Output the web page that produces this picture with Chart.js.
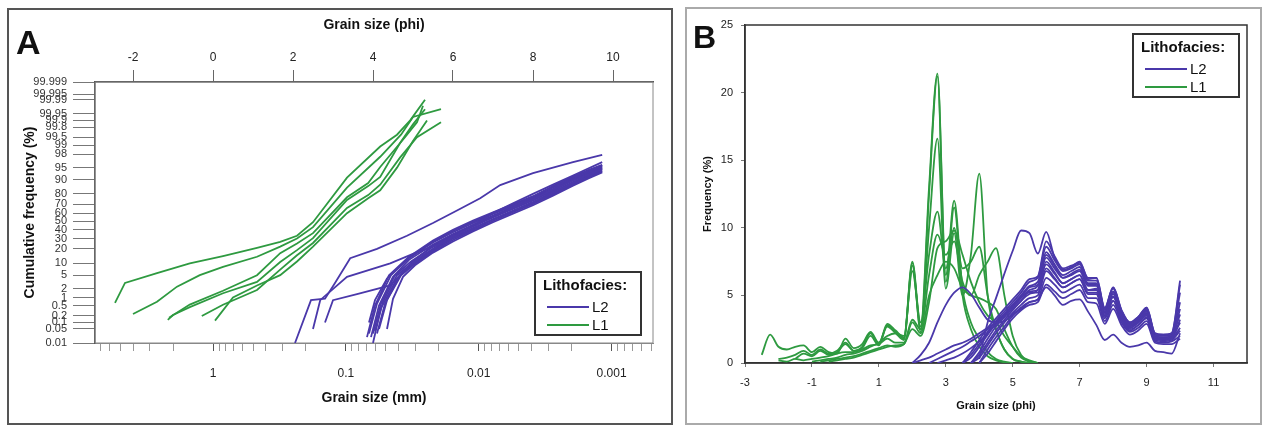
<!DOCTYPE html>
<html><head><meta charset="utf-8">
<script src="https://cdn.jsdelivr.net/npm/chart.js@4.4.0/dist/chart.umd.min.js"></script>
<style>
html,body{margin:0;padding:0;background:#fff;}
body{width:1264px;height:425px;position:relative;overflow:hidden;font-family:"Liberation Sans",Arial,sans-serif;}
.cv{position:absolute;top:0;}
.frame{position:absolute;box-sizing:border-box;pointer-events:none;}
.letter{position:absolute;font-weight:bold;line-height:1.15;color:#111;}
.leg{position:absolute;box-sizing:border-box;border:2px solid #333;background:#fff;}
.leg .t{position:absolute;font-weight:bold;font-size:15px;line-height:17px;color:#111;white-space:nowrap;}
.leg .s{position:absolute;height:2px;}
.leg .l{position:absolute;font-size:15px;line-height:17px;color:#111;}
</style>
</head><body>
<canvas id="ca" class="cv" width="680" height="425" style="left:0;width:680px;height:425px"></canvas>
<canvas id="cb" class="cv" width="584" height="425" style="left:680px;width:584px;height:425px"></canvas>
<div class="frame" style="left:7px;top:8px;width:666px;height:417px;border:2px solid #555"></div>
<div class="frame" style="left:685px;top:7px;width:577px;height:418px;border:2px solid #aaa"></div>
<div class="letter" style="left:16px;top:23px;font-size:34px">A</div>
<div class="letter" style="left:693px;top:19px;font-size:32px">B</div>
<div id="legA"></div><div id="legB"></div>
<script>
// ---------- Panel A: cumulative curves [phi, cumulative %] ----------
const aL1_1 = [[-2.45,0.64],[-2.2,3],[-1.4,5.7],[-0.58,10],[0.25,14.5],[1.1,21],[1.68,26.5],[2.1,33],[2.5,49],[3.35,91],[4.18,98.9],[4.6,99.6],[4.93,99.9],[5.3,99.99]];
const aL1_2 = [[-2.0,0.23],[-1.4,0.7],[-0.9,2.3],[-0.33,5],[0.25,8.2],[1.1,14],[1.68,22],[2.1,30],[2.5,43],[3.35,85],[4.18,97.6],[4.7,99.6],[5.0,99.93],[5.7,99.97]];
const aL1_3 = [[-1.13,0.13],[-1.0,0.21],[-0.58,0.44],[0.25,1.4],[1.1,3.2],[1.68,10.7],[2.1,19],[2.5,30.5],[3.35,74.5],[3.88,86],[4.18,91.3],[4.68,99.2],[5.0,99.85],[5.3,99.97]];
const aL1_4 = [[-1.1,0.16],[-0.58,0.55],[0.25,1.7],[1.1,5],[1.68,16.6],[2.1,25],[2.5,36],[3.35,77],[3.88,88],[4.18,95.2],[4.8,99.5],[5.1,99.88],[5.25,99.98]];
const aL1_5 = [[-0.28,0.19],[0.25,0.54],[1.1,1.8],[1.68,7],[2.1,15],[2.5,25.5],[3.35,66],[3.88,79],[4.18,86.9],[4.68,97.5],[5.1,99.5],[5.7,99.88]];
const aL1_6 = [[0.05,0.12],[0.5,1.0],[1.1,2.5],[1.68,5],[2.1,11],[2.5,22],[3.35,60],[3.88,76],[4.18,83],[4.6,95],[5.0,99.3],[5.35,99.9]];

const aL2_e1 = [[2.05,0.01],[2.45,0.8],[2.8,0.9],[3.05,3],[3.43,13],[4.1,20],[4.85,33],[5.5,48],[6.1,63],[6.68,76],[7.18,86.7],[8.0,93],[9.0,96.5],[9.73,97.9]];
const aL2_e2 = [[2.5,0.05],[2.68,0.8],[3.35,4.5],[4.43,10],[5.0,16],[5.85,27],[6.5,45],[7.0,60],[7.5,71],[8.0,80],[8.5,87],[9.0,92],[9.73,96.5]];
const aL2_e3 = [[2.8,0.1],[3.0,0.8],[3.6,1.3],[4.43,2.5],[4.8,7],[5.3,16],[5.9,30],[6.5,44],[7.0,56],[7.5,66],[8.0,75],[8.5,83.5],[9.0,89.5],[9.73,94.5]];
const aL2_b1 = [[3.85,0.02],[4.05,0.5],[4.4,5],[4.9,14],[5.5,28],[6.0,40],[6.5,51],[7.0,61],[7.5,70],[8.0,78],[8.5,86],[9.0,91.5],[9.4,94.3],[9.73,95.8]];
const aL2_b2 = [[3.9,0.03],[4.1,0.6],[4.45,5],[4.9,13],[5.5,26],[6.0,37],[6.5,48],[7.0,59],[7.5,68],[8.0,77],[8.5,85],[9.0,91],[9.4,94],[9.73,95.5]];
const aL2_b3 = [[3.95,0.02],[4.15,0.5],[4.5,4.5],[4.9,12],[5.5,24],[6.0,35],[6.5,46],[7.0,57],[7.5,67],[8.0,76],[8.5,84],[9.0,90.5],[9.4,93.5],[9.73,95.2]];
const aL2_b4 = [[4.0,0.03],[4.2,0.6],[4.55,5],[4.95,11],[5.5,22],[6.0,33],[6.5,44],[7.0,55],[7.5,65],[8.0,74],[8.5,82.5],[9.0,89.5],[9.4,93],[9.73,94.8]];
const aL2_b5 = [[4.05,0.04],[4.25,0.7],[4.6,5],[5.0,10.5],[5.5,20],[6.0,31],[6.5,42],[7.0,53],[7.5,63],[8.0,72.5],[8.5,81.5],[9.0,88.5],[9.4,92.3],[9.73,94.4]];
const aL2_b6 = [[4.1,0.03],[4.3,0.6],[4.65,4.5],[5.0,9.5],[5.5,19],[6.0,30],[6.5,41],[7.0,52],[7.5,62],[8.0,71.5],[8.5,80.5],[9.0,87.8],[9.4,91.8],[9.73,94]];
const aL2_b7 = [[4.15,0.05],[4.35,0.8],[4.7,5],[5.0,9],[5.5,18],[6.0,28.5],[6.5,39.5],[7.0,50.5],[7.5,61],[8.0,70.5],[8.5,79.5],[9.0,87],[9.4,91.2],[9.73,93.7]];
const aL2_b8 = [[4.35,0.05],[4.5,0.9],[4.75,4.5],[5.05,9],[5.5,17],[6.0,27],[6.5,38],[7.0,49],[7.5,59.5],[8.0,69],[8.5,78.5],[9.0,86.2],[9.4,90.7],[9.73,93.3]];
const aL2_b9 = [[3.9,0.1],[4.05,0.8],[4.35,4],[4.85,12.5],[5.5,27],[6.0,38.5],[6.5,49.5],[7.0,60],[7.5,69],[8.0,77.5],[8.5,85.5],[9.0,91.2],[9.4,94.1],[9.73,95.7]];
const aL2_b10 = [[4.0,0.01],[4.2,0.4],[4.6,4],[5.0,11],[5.5,23],[6.0,34],[6.5,45],[7.0,56],[7.5,66],[8.0,75],[8.5,83.5],[9.0,90],[9.4,93.3],[9.73,95]];

// Panel A tick labels
const aYTicks = [0.01,0.05,0.1,0.2,0.5,1,2,5,10,20,30,40,50,60,70,80,90,95,98,99,99.5,99.8,99.9,99.95,99.99,99.995,99.999];
const aPhiTicks = [-2,0,2,4,6,8,10];
const aMmMajor = [1,0.1,0.01,0.001];
const aMmMinorMant = [2,3,4,5,6,7,8,9];
const aMmDecades = [1,0.1,0.01,0.001,0.0001];
const aPhiMin = -2.95, aPhiMax = 11;

// ---------- Panel B: frequency curves ----------
const bPhiL1 = [-2.5,-2.25,-2,-1.75,-1.5,-1.25,-1,-0.75,-0.5,-0.25,0,0.25,0.5,0.75,1,1.25,1.5,1.75,2,2.25,2.5,2.75,3,3.25,3.5,3.75,4,4.25,4.5,4.75,5,5.25,5.5,5.75,6];
const bL1_a = [null,null,0.3,0.4,0.6,0.9,0.6,1.0,0.7,0.9,1.5,0.9,1.2,2.2,1.4,2.9,2.4,1.9,7.5,2.7,13,21.4,6.5,12,5.5,3,1.8,0.8,0.3,0.1,0,null,null,null,null];
const bL1_b = [0.6,2.1,1.2,1.0,1.2,1.3,0.8,1.2,0.8,0.7,1.8,1.1,1.4,2.3,1.5,2.7,2.2,1.7,7.4,2.3,12.5,21.2,6,11.5,5,2.5,1.2,0.5,0.2,0.05,0,null,null,null,null];
const bL1_c = [null,null,null,null,0.3,0.7,0.5,0.9,0.6,0.8,1.4,0.9,1.1,2.0,1.3,2.8,2.3,1.8,7.2,2.5,10,16.6,5.5,9.6,5,8,14,5,2.5,1.0,0.3,0.1,0,null,null];
const bL1_d = [null,null,null,null,null,null,0.1,0.2,0.3,0.4,0.6,0.7,0.9,1.2,1.5,2.0,2.2,2.0,6.8,3.0,8,11.2,7,10,7,7.5,8.6,5,2.5,1,0.3,0.1,0,null,null];
const bL1_e = [null,null,0.2,0.1,0.3,0.2,0.3,0.4,0.5,0.7,0.8,0.8,1.0,1.3,1.4,1.8,1.5,1.5,3.2,2.5,6.5,9.5,8,9,6,5,6.5,7.5,8.5,5,2,0.6,0.1,0,null];
const bL1_f = [null,null,null,null,null,null,null,null,0.1,0.2,0.3,0.4,0.6,0.8,1.0,1.2,1.3,1.4,3,2.2,5,6.5,7.5,7,5.5,5,4.8,4.5,4,2.5,1.2,0.4,0.1,0,null];
const bL1_g = [null,null,null,null,null,null,null,0.1,0.2,0.3,0.4,0.5,0.7,0.9,1.1,1.3,1.2,1.4,2.5,2.0,4.5,8.5,9,9.8,8,6,4.5,3.5,3,2,1.2,0.5,0.2,0,null];

const bPhiL2 = [2,2.25,2.5,2.75,3,3.25,3.5,3.75,4,4.25,4.5,4.75,5,5.25,5.5,5.75,6,6.25,6.5,6.75,7,7.25,7.5,7.75,8,8.25,8.5,8.75,9,9.25,9.5,9.75,10];
const bL2_p1 = [null,null,null,null,null,null,null,null,0.3,3.0,4.8,6.6,8.3,9.8,9.6,8.1,9.7,7.8,6.9,7.1,7.5,6.2,6.3,4.0,5.6,3.9,3.0,3.4,4.1,2.2,2.1,2.2,6.1];
const bL2_p2 = [0,0.6,1.5,3.0,4.3,5.2,5.6,5.1,4.1,3.2,3.0,3.1,3.6,4.0,4.5,4.7,5.6,5.0,4.3,4.6,4.7,3.8,2.8,1.7,2.1,1.5,1.2,1.3,1.5,0.9,0.8,0.7,2.2];
const bL2_q1 = [0,0.2,0.4,0.7,1.0,1.3,1.5,1.8,2.2,2.6,3.0,3.5,4.0,4.6,5.3,5.4,7.5,6.7,5.9,6.2,6.5,5.4,5.5,3.6,4.9,3.4,2.6,3.0,3.6,1.9,1.8,1.9,4.0];
const bL2_q2 = [null,null,0,0.3,0.6,0.9,1.2,1.6,2.0,2.5,3.0,3.6,4.2,4.9,5.6,5.8,8.0,7.2,6.3,6.6,6.9,5.8,5.8,3.8,5.2,3.6,2.8,3.2,3.8,2.0,1.9,2.0,4.5];
const bL2_q3 = [null,null,null,0,0.2,0.4,0.7,1.1,1.6,2.2,2.9,3.6,4.3,4.9,5.2,5.2,7.0,6.3,5.6,5.9,6.2,5.2,5.2,3.4,4.6,3.2,2.5,2.8,3.4,1.8,1.7,1.8,3.2];
const bL2_k1 = [null,null,null,null,null,null,0,0.6,1.4,2.3,3.1,3.8,4.5,5.2,6.0,6.3,8.6,7.6,6.8,7.0,7.3,6.1,6.1,4.0,5.5,3.8,2.9,3.3,4.0,2.1,2.0,2.1,5.2];
const bL2_k2 = [null,null,null,null,null,null,0,0.4,1.2,2.1,2.9,3.6,4.3,5.0,5.7,6.0,8.2,7.3,6.5,6.8,7.1,5.9,5.9,3.9,5.3,3.7,2.8,3.2,3.9,2.0,1.9,2.0,3.6];
const bL2_k3 = [null,null,null,null,null,null,null,0,0.8,1.8,2.7,3.4,4.1,4.8,5.4,5.7,7.8,7.0,6.3,6.5,6.8,5.7,5.7,3.7,5.1,3.5,2.7,3.1,3.7,1.9,1.8,1.9,3.0];
const bL2_k4 = [null,null,null,null,null,null,null,0,0.6,1.5,2.4,3.2,3.9,4.6,5.1,5.4,7.3,6.6,5.9,6.2,6.5,5.4,5.4,3.5,4.9,3.4,2.6,3.0,3.5,1.8,1.7,1.8,2.6];
const bL2_k5 = [null,null,null,null,null,null,null,0,0.4,1.3,2.2,3.0,3.7,4.3,4.8,5.0,6.8,6.2,5.6,5.9,6.2,5.1,5.1,3.3,4.6,3.2,2.4,2.8,3.3,1.7,1.6,1.7,2.4];
const bL2_k6 = [null,null,null,null,null,null,null,null,0,1.0,1.9,2.7,3.5,4.1,4.5,4.7,6.3,5.8,5.2,5.5,5.8,4.8,4.8,3.1,4.3,3.0,2.3,2.6,3.1,1.6,1.5,1.6,2.0];
const bL2_k7 = [null,null,null,null,null,null,null,null,0,0.7,1.6,2.5,3.3,3.9,4.3,4.5,5.8,5.3,4.8,5.1,5.4,4.5,4.4,2.9,4.0,2.8,2.1,2.4,2.9,1.5,1.4,1.4,1.8];
const bL2_k8 = [null,null,null,null,null,null,0,0.8,1.7,2.6,3.3,4.0,4.7,5.4,6.2,6.4,9.0,7.9,7.0,7.2,7.4,6.3,6.3,4.1,5.6,3.9,3.0,3.4,4.1,2.2,2.1,2.2,5.8];

const bXTicks = [-3,-1,1,3,5,7,9,11];
const bYTicks = [0,5,10,15,20,25];

const seriesNames = ['L2','L1'];
const COL_L2 = '#4a38aa', COL_L1 = '#2e9a40';
const F = "'Liberation Sans', Arial, sans-serif";

// inverse normal CDF (probability-paper axis)
function probit(p){
  const a=[-3.969683028665376e+01,2.209460984245205e+02,-2.759285104469687e+02,1.383577518672690e+02,-3.066479806614716e+01,2.506628277459239e+00];
  const b=[-5.447609879822406e+01,1.615858368580409e+02,-1.556989798598866e+02,6.680131188771972e+01,-1.328068155288572e+01];
  const c=[-7.784894002430293e-03,-3.223964580411365e-01,-2.400758277161838e+00,-2.549732539343734e+00,4.374664141464968e+00,2.938163982698783e+00];
  const d=[7.784695709041462e-03,3.224671290700398e-01,2.445134137142996e+00,3.754408661907416e+00];
  const pl=0.02425, ph=1-pl; let q,r;
  if(p<pl){q=Math.sqrt(-2*Math.log(p));return (((((c[0]*q+c[1])*q+c[2])*q+c[3])*q+c[4])*q+c[5])/((((d[0]*q+d[1])*q+d[2])*q+d[3])*q+1);}
  if(p>ph){q=Math.sqrt(-2*Math.log(1-p));return -(((((c[0]*q+c[1])*q+c[2])*q+c[3])*q+c[4])*q+c[5])/((((d[0]*q+d[1])*q+d[2])*q+d[3])*q+1);}
  q=p-0.5;r=q*q;return (((((a[0]*r+a[1])*r+a[2])*r+a[3])*r+a[4])*r+a[5])*q/(((((b[0]*r+b[1])*r+b[2])*r+b[3])*r+b[4])*r+1);
}

const areaBox = {
  id:'areaBox',
  beforeDatasetsDraw(chart, args, opts){
    const {ctx, chartArea:a} = chart;
    ctx.save(); ctx.strokeStyle = opts.color; ctx.lineWidth = opts.width;
    ctx.strokeRect(a.left, a.top, a.right-a.left, a.bottom-a.top);
    ctx.restore();
  }
};

// ----- Panel A chart -----
function dsA(curve, color){
  return {data: curve.map(p=>({x:p[0], y:probit(p[1]/100)})), borderColor:color, borderWidth:1.8,
    pointRadius:0, showLine:true, fill:false, tension:0, xAxisID:'xt', yAxisID:'y'};
}
const aL2 = [aL2_e1,aL2_e2,aL2_e3,aL2_b1,aL2_b2,aL2_b3,aL2_b4,aL2_b5,aL2_b6,aL2_b7,aL2_b8,aL2_b9,aL2_b10];
const aL1 = [aL1_1,aL1_2,aL1_3,aL1_4,aL1_5,aL1_6];

const bottomTicks = [];
aMmDecades.forEach(dec=>{
  aMmMinorMant.forEach(m=>{
    const ph = -Math.log2(m*dec);
    if (ph>=aPhiMin && ph<=aPhiMax) bottomTicks.push({value:ph, mj:false, lbl:''});
  });
});
aMmMajor.forEach(mm=>bottomTicks.push({value:-Math.log2(mm), mj:true, lbl:String(mm)}));
bottomTicks.sort((p,q)=>p.value-q.value);

const tickFontA = {family:F, size:12};
new Chart(document.getElementById('ca'), {
  type:'scatter',
  data:{datasets:[...aL2.map(c=>dsA(c,COL_L2)), ...aL1.map(c=>dsA(c,COL_L1))]},
  options:{
    responsive:false, animation:false, events:[],
    layout:{padding:{left:0,right:27,top:0,bottom:0}},
    plugins:{legend:{display:false}, tooltip:{enabled:false}, areaBox:{color:'#888', width:1}},
    scales:{
      xt:{type:'linear', position:'top', min:aPhiMin, max:aPhiMax,
        afterBuildTicks:s=>{s.ticks = aPhiTicks.map(v=>({value:v}));},
        afterFit:s=>{s.height=82;},
        ticks:{autoSkip:false, maxRotation:0, padding:5, font:tickFontA, color:'#222', callback:v=>String(v)},
        grid:{drawOnChartArea:false, tickLength:12, color:'#666'},
        border:{color:'#444', width:1.5},
        title:{display:true, text:'Grain size (phi)', font:{family:F,size:14,weight:'bold'}, color:'#111', padding:{top:17,bottom:0}}
      },
      xb:{type:'linear', position:'bottom', min:aPhiMin, max:aPhiMax,
        afterBuildTicks:s=>{s.ticks = bottomTicks.map(t=>({value:t.value, mj:t.mj, lbl:t.lbl}));},
        afterFit:s=>{s.height=82;},
        ticks:{autoSkip:false, maxRotation:0, padding:15, font:tickFontA, color:'#222', callback:(v,i,t)=>t[i].lbl},
        grid:{drawOnChartArea:false, tickLength:8, color:c=>(c.tick && c.tick.mj)?'#555':'#999'},
        border:{color:'#888', width:1},
        title:{display:true, text:'Grain size (mm)', font:{family:F,size:14,weight:'bold'}, color:'#111', padding:{top:0,bottom:18}}
      },
      y:{type:'linear', position:'left', min:probit(aYTicks[0]/100), max:probit(aYTicks[aYTicks.length-1]/100),
        afterBuildTicks:s=>{s.ticks = aYTicks.map(p=>({value:probit(p/100)}));},
        afterFit:s=>{s.width=95;},
        ticks:{autoSkip:false, padding:6, font:{family:F,size:11}, color:'#333', callback:(v,i)=>String(aYTicks[i])},
        grid:{drawOnChartArea:false, tickLength:22, color:'#777'},
        border:{color:'#444', width:1.5},
        title:{display:true, text:'Cumulative frequency (%)', font:{family:F,size:14,weight:'bold'}, color:'#111', padding:{top:22,bottom:0}}
      }
    }
  },
  plugins:[areaBox]
});

// ----- Panel B chart -----
function dsB(grid, vals, color){
  return {data: grid.map((x,i)=>({x:x, y:vals[i]})).filter(p=>p.y!==null), borderColor:color, borderWidth:1.8,
    pointRadius:0, showLine:true, fill:false, tension:0.4, cubicInterpolationMode:'monotone'};
}
const bL2 = [bL2_p1,bL2_p2,bL2_q1,bL2_q2,bL2_q3,bL2_k1,bL2_k2,bL2_k3,bL2_k4,bL2_k5,bL2_k6,bL2_k7,bL2_k8];
const bL1 = [bL1_a,bL1_b,bL1_c,bL1_d,bL1_e,bL1_f,bL1_g];
const tickFontB = {family:F, size:11};
new Chart(document.getElementById('cb'), {
  type:'scatter',
  data:{datasets:[...bL2.map(v=>dsB(bPhiL2,v,COL_L2)), ...bL1.map(v=>dsB(bPhiL1,v,COL_L1))]},
  options:{
    responsive:false, animation:false, events:[],
    layout:{padding:{left:0,right:17,top:25,bottom:0}},
    plugins:{legend:{display:false}, tooltip:{enabled:false}, areaBox:{color:'#333', width:1.5}},
    scales:{
      x:{type:'linear', position:'bottom', min:-3, max:12,
        afterBuildTicks:s=>{s.ticks = bXTicks.map(v=>({value:v}));},
        afterFit:s=>{s.height=62;},
        ticks:{autoSkip:false, maxRotation:0, padding:9, font:tickFontB, color:'#222', callback:v=>String(v)},
        grid:{drawOnChartArea:false, tickLength:4, color:'#777'},
        border:{color:'#333', width:1.5},
        title:{display:true, text:'Grain size (phi)', font:{family:F,size:11,weight:'bold'}, color:'#111', padding:{top:0,bottom:12}}
      },
      y:{type:'linear', position:'left', min:0, max:25,
        afterBuildTicks:s=>{s.ticks = bYTicks.map(v=>({value:v}));},
        afterFit:s=>{s.width=65;},
        ticks:{autoSkip:false, padding:8, font:tickFontB, color:'#222', callback:v=>String(v)},
        grid:{drawOnChartArea:false, tickLength:4, color:'#777'},
        border:{color:'#333', width:1.5},
        title:{display:true, text:'Frequency (%)', font:{family:F,size:11,weight:'bold'}, color:'#111', padding:{top:21,bottom:0}}
      }
    }
  },
  plugins:[areaBox]
});

// ----- HTML legends -----
function legend(id, left, top){
  const box = document.createElement('div');
  box.className='leg';
  box.style.cssText = `left:${left}px;top:${top}px;width:108px;height:65px;`;
  box.innerHTML = `<div class="t" style="left:7px;top:3px">Lithofacies:</div>`;
  [[seriesNames[0],COL_L2,33],[seriesNames[1],COL_L1,51]].forEach(([n,c,y])=>{
    box.innerHTML += `<div class="s" style="left:11px;top:${y}px;width:42px;background:${c}"></div>`+
                     `<div class="l" style="left:56px;top:${y-8}px">${n}</div>`;
  });
  document.getElementById(id).appendChild(box);
}
legend('legA', 534, 271);
legend('legB', 1132, 33);
</script>
</body></html>
